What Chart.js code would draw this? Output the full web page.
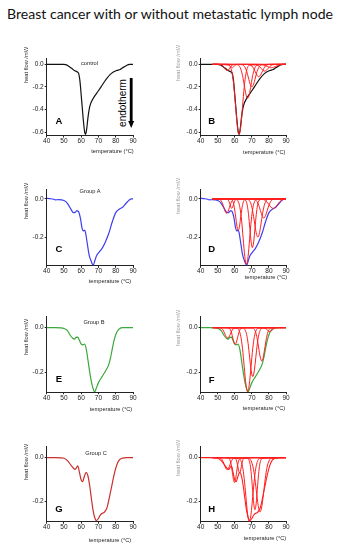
<!DOCTYPE html>
<html><head><meta charset="utf-8">
<script src="https://cdn.jsdelivr.net/npm/chart.js@4/dist/chart.umd.min.js"></script>
<style>
html,body{margin:0;padding:0;background:#fff;width:340px;height:550px;overflow:hidden;position:relative;}
.t{position:absolute;white-space:nowrap;font-family:'Liberation Sans',Arial,sans-serif;color:#222;transform:translate(-50%,-50%);line-height:1;}
.ax{font-size:5.7px}
.yl{transform:translate(-50%,-50%) rotate(-90deg)}
.yr{color:#999}
.let{font-weight:bold;font-size:9.5px;color:#000}
.box{position:absolute}
#title{font-family:Lato,'Open Sans',sans-serif;font-size:13px;color:#111;}
</style></head><body>
<div id="title" class="t" style="left:170px;top:14px">Breast cancer with or without metastatic lymph node</div>
<svg style="position:absolute;left:126px;top:78px" width="10" height="51"><rect x="3.8" y="0" width="2.8" height="44" fill="#000"/><polygon points="2.2,43 8.2,43 5.2,50" fill="#000"/></svg>
<div class="t yl" style="left:123.3px;top:103px;font-size:10px;color:#000">endotherm</div>
<script>
// ---------- data ----------
const xTicks = [40, 50, 60, 70, 80, 90];
const yTicksControl = [0, -0.2, -0.4, -0.6];
const yTicksGroups = [0, -0.2];
const panelTitles = ['control', 'Group A', 'Group B', 'Group C'];
const panelLetters = ['A', 'B', 'C', 'D', 'E', 'F', 'G', 'H'];
const xAxisTitle = 'temperature (°C)';
const yAxisTitle = 'heat flow /mW';

const controlCurve = [[40,0],[45,0],[50,0],[51.5,-0.005],[53,-0.02],[54.5,-0.035],[56,-0.055],[57.5,-0.065],[58.5,-0.08],[59.2,-0.14],[60.2,-0.31],[61.2,-0.49],[62,-0.6],[62.5,-0.62],[63.1,-0.58],[64,-0.46],[65,-0.37],[67,-0.3],[69,-0.255],[71.5,-0.2],[74.5,-0.13],[77.5,-0.08],[80.5,-0.055],[82.5,-0.045],[84,-0.03],[86,-0.012],[88,0],[90,0]];
const groupACurve = [[40,0.003],[42,0.001],[44,-0.002],[45,-0.005],[47,-0.004],[50,-0.009],[52,-0.023],[54,-0.054],[55.5,-0.072],[56.5,-0.071],[57.5,-0.061],[58.5,-0.068],[59.5,-0.1],[60.5,-0.154],[61.2,-0.167],[62,-0.163],[62.5,-0.177],[63.5,-0.233],[64.5,-0.29],[65.5,-0.32],[66.5,-0.342],[67,-0.347],[68,-0.32],[69,-0.295],[70.5,-0.277],[72,-0.26],[74,-0.225],[76,-0.18],[78,-0.12],[80,-0.072],[82,-0.054],[84,-0.044],[86,-0.023],[88,-0.005],[89,0],[90,0]];
const groupBCurve = [[40,0],[45,0],[48,-0.001],[50,-0.004],[52,-0.013],[53.5,-0.033],[55,-0.047],[56,-0.052],[57,-0.044],[58,-0.043],[59,-0.058],[60,-0.074],[61,-0.077],[62,-0.074],[63,-0.1],[64,-0.151],[65,-0.203],[66,-0.247],[67,-0.277],[67.8,-0.289],[68.5,-0.277],[70,-0.247],[72,-0.221],[74,-0.196],[76,-0.165],[77,-0.135],[78,-0.095],[79,-0.058],[80,-0.032],[81,-0.015],[82,-0.006],[84,0],[90,0]];
const groupCCurve = [[40,0],[45,0],[48,-0.001],[50,-0.003],[52,-0.014],[54,-0.034],[55.5,-0.049],[56.5,-0.054],[57.5,-0.042],[58,-0.038],[59,-0.069],[60,-0.103],[60.8,-0.111],[61.5,-0.095],[62.5,-0.072],[63,-0.069],[64,-0.088],[65,-0.134],[66,-0.195],[67,-0.249],[68,-0.28],[68.8,-0.29],[70,-0.28],[71,-0.265],[72,-0.257],[73,-0.254],[74,-0.245],[75,-0.229],[76,-0.195],[77,-0.157],[78,-0.118],[79,-0.08],[80,-0.049],[81,-0.026],[82,-0.011],[84,-0.002],[86,0],[90,0]];

const peakBaseStart = 47;
const peakBaseEnd = 90;

const peaksB_T = [
[51,51.75,52.5,53.25,54,54.75,55.5,56.25,57,57.75,58.5,59.25,60],
[55.5,56,56.5,57,57.5,58,58.5,59,59.5,60,60.5,61,61.5],
[56.5,57.5,58.5,59.5,60.5,61.5,62.5,63.5,64.5,65.5,66.5,67.5,68.5],
[61.5,62.5,63.5,64.5,65.5,66.5,67.5,68.5,69.5,70.5,71.5,72.5,73.5],
[64,65,66,67,68,69,70,71,72,73,74,75,76],
[68,69,70,71,72,73,74,75,76,77,78,79,80],
[71.5,72.5,73.5,74.5,75.5,76.5,77.5,78.5,79.5,80.5,81.5,82.5,83.5],
[74,75.25,76.5,77.75,79,80.25,81.5,82.75,84,85.25,86.5,87.75,89]];
const peaksB_Y = [
[-0.001,-0.002,-0.007,-0.018,-0.033,-0.049,-0.055,-0.049,-0.033,-0.018,-0.007,-0.002,-0.001],
[0,-0.001,-0.004,-0.01,-0.018,-0.026,-0.03,-0.026,-0.018,-0.01,-0.004,-0.001,0],
[-0.007,-0.027,-0.084,-0.202,-0.376,-0.547,-0.62,-0.547,-0.376,-0.202,-0.084,-0.027,-0.007],
[-0.003,-0.013,-0.041,-0.098,-0.182,-0.265,-0.3,-0.265,-0.182,-0.098,-0.041,-0.013,-0.003],
[-0.002,-0.009,-0.027,-0.065,-0.121,-0.176,-0.2,-0.176,-0.121,-0.065,-0.027,-0.009,-0.002],
[-0.001,-0.005,-0.015,-0.036,-0.067,-0.097,-0.11,-0.097,-0.067,-0.036,-0.015,-0.005,-0.001],
[-0.001,-0.003,-0.008,-0.02,-0.036,-0.053,-0.06,-0.053,-0.036,-0.02,-0.008,-0.003,-0.001],
[0,-0.001,-0.004,-0.01,-0.018,-0.026,-0.03,-0.026,-0.018,-0.01,-0.004,-0.001,0]];

const peaksD_T = [
[50.4,51.2,52,52.8,53.6,54.4,55.2,56,56.8,57.6,58.4,59.2,60],
[55.2,55.7,56.2,56.7,57.2,57.7,58.2,58.7,59.2,59.7,60.2,60.7,61.2],
[57.8,58.5,59.2,59.9,60.6,61.3,62,62.7,63.4,64.1,64.8,65.5,66.2],
[61.1,62.05,63,63.95,64.9,65.85,66.8,67.75,68.7,69.65,70.6,71.55,72.5],
[65.8,66.55,67.3,68.05,68.8,69.55,70.3,71.05,71.8,72.55,73.3,74.05,74.8],
[67.5,68.5,69.5,70.5,71.5,72.5,73.5,74.5,75.5,76.5,77.5,78.5,79.5],
[71,72,73,74,75,76,77,78,79,80,81,82,83],
[75,76.25,77.5,78.75,80,81.25,82.5,83.75,85,86.25,87.5,88.75,90]];
const peaksD_Y = [
[-0.001,-0.003,-0.01,-0.024,-0.046,-0.066,-0.075,-0.066,-0.046,-0.024,-0.01,-0.003,-0.001],
[-0.001,-0.002,-0.007,-0.016,-0.03,-0.044,-0.05,-0.044,-0.03,-0.016,-0.007,-0.002,-0.001],
[-0.002,-0.007,-0.022,-0.054,-0.1,-0.146,-0.165,-0.146,-0.1,-0.054,-0.022,-0.007,-0.002],
[-0.004,-0.015,-0.046,-0.111,-0.208,-0.302,-0.342,-0.302,-0.208,-0.111,-0.046,-0.015,-0.004],
[-0.003,-0.011,-0.034,-0.083,-0.155,-0.225,-0.255,-0.225,-0.155,-0.083,-0.034,-0.011,-0.003],
[-0.002,-0.009,-0.027,-0.065,-0.121,-0.176,-0.2,-0.176,-0.121,-0.065,-0.027,-0.009,-0.002],
[-0.001,-0.004,-0.014,-0.033,-0.061,-0.088,-0.1,-0.088,-0.061,-0.033,-0.014,-0.004,-0.001],
[-0.001,-0.002,-0.007,-0.016,-0.03,-0.044,-0.05,-0.044,-0.03,-0.016,-0.007,-0.002,-0.001]];

const peaksF_T = [
[51,51.8,52.6,53.4,54.2,55,55.8,56.6,57.4,58.2,59,59.8,60.6],
[56,56.7,57.4,58.1,58.8,59.5,60.2,60.9,61.6,62.3,63,63.7,64.4],
[61.5,62.5,63.5,64.5,65.5,66.5,67.5,68.5,69.5,70.5,71.5,72.5,73.5],
[65.1,66,66.9,67.8,68.7,69.6,70.5,71.4,72.3,73.2,74.1,75,75.9],
[70.4,71.3,72.2,73.1,74,74.9,75.8,76.7,77.6,78.5,79.4,80.3,81.2],
[76.3,77,77.7,78.4,79.1,79.8,80.5,81.2,81.9,82.6,83.3,84,84.7]];
const peaksF_Y = [
[-0.001,-0.002,-0.006,-0.015,-0.029,-0.041,-0.047,-0.041,-0.029,-0.015,-0.006,-0.002,-0.001],
[-0.001,-0.003,-0.01,-0.024,-0.046,-0.066,-0.075,-0.066,-0.046,-0.024,-0.01,-0.003,-0.001],
[-0.003,-0.013,-0.039,-0.094,-0.175,-0.254,-0.288,-0.254,-0.175,-0.094,-0.039,-0.013,-0.003],
[-0.002,-0.01,-0.03,-0.072,-0.134,-0.194,-0.22,-0.194,-0.134,-0.072,-0.03,-0.01,-0.002],
[-0.002,-0.007,-0.02,-0.049,-0.091,-0.132,-0.15,-0.132,-0.091,-0.049,-0.02,-0.007,-0.002],
[0,-0.001,-0.002,-0.006,-0.011,-0.016,-0.018,-0.016,-0.011,-0.006,-0.002,-0.001,0]];

const peaksH_T = [
[50.7,51.5,52.3,53.1,53.9,54.7,55.5,56.3,57.1,57.9,58.7,59.5,60.3],
[56.2,56.8,57.4,58,58.6,59.2,59.8,60.4,61,61.6,62.2,62.8,63.4],
[59.8,60.3,60.8,61.3,61.8,62.3,62.8,63.3,63.8,64.3,64.8,65.3,65.8],
[62.5,63.5,64.5,65.5,66.5,67.5,68.5,69.5,70.5,71.5,72.5,73.5,74.5],
[67.6,68.3,69,69.7,70.4,71.1,71.8,72.5,73.2,73.9,74.6,75.3,76],
[68.2,69.3,70.4,71.5,72.6,73.7,74.8,75.9,77,78.1,79.2,80.3,81.4]];
const peaksH_Y = [
[-0.001,-0.002,-0.007,-0.018,-0.033,-0.049,-0.055,-0.049,-0.033,-0.018,-0.007,-0.002,-0.001],
[-0.001,-0.005,-0.016,-0.037,-0.07,-0.101,-0.115,-0.101,-0.07,-0.037,-0.016,-0.005,-0.001],
[-0.001,-0.003,-0.009,-0.023,-0.042,-0.062,-0.07,-0.062,-0.042,-0.023,-0.009,-0.003,-0.001],
[-0.003,-0.013,-0.04,-0.096,-0.179,-0.26,-0.295,-0.26,-0.179,-0.096,-0.04,-0.013,-0.003],
[-0.003,-0.011,-0.032,-0.078,-0.146,-0.212,-0.24,-0.212,-0.146,-0.078,-0.032,-0.011,-0.003],
[-0.003,-0.011,-0.034,-0.081,-0.152,-0.221,-0.25,-0.221,-0.152,-0.081,-0.034,-0.011,-0.003]];

// ---------- styling ----------
const C_BLACK = '#111', C_BLUE = '#3d3df2', C_GREEN = '#3aa83a', C_DARKRED = '#c9302c', C_RED = '#ff1e1e';

function curve(pairs, color, w) {
  return {data: pairs.map(p => ({x: p[0], y: p[1]})), borderColor: color, borderWidth: w,
          pointRadius: 0, fill: false, cubicInterpolationMode: 'monotone'};
}
function peaks(Ts, Ys, color) {
  return Ts.map((t, i) => {
    const pts = t.map((x, j) => [x, Ys[i][j]]);
    pts.unshift([peakBaseStart, 0]);
    if (t[t.length - 1] < peakBaseEnd) pts.push([peakBaseEnd, 0]);
    return curve(pts, color, 1);
  });
}

const L = {l: 46.7, r: 133}, R = {l: 200.7, r: 286};
const rows = [{t: 58.7, b: 135.5, min: -0.63, ticks: yTicksControl},
              {t: 189.3, b: 265.8, min: -0.35, ticks: yTicksGroups},
              {t: 316.5, b: 392.2, min: -0.29, ticks: yTicksGroups},
              {t: 446.8, b: 521.7, min: -0.295, ticks: yTicksGroups}];

const panels = [
  {col: L, row: rows[0], ds: [curve(controlCurve, C_BLACK, 1.2)]},
  {col: R, row: rows[0], ds: [...peaks(peaksB_T, peaksB_Y, C_RED), curve(controlCurve, C_BLACK, 1.2)]},
  {col: L, row: rows[1], ds: [curve(groupACurve, C_BLUE, 1.2)]},
  {col: R, row: rows[1], ds: [...peaks(peaksD_T, peaksD_Y, C_RED), curve(groupACurve, C_BLUE, 1.2)]},
  {col: L, row: rows[2], ds: [curve(groupBCurve, C_GREEN, 1.2)]},
  {col: R, row: rows[2], ds: [...peaks(peaksF_T, peaksF_Y, C_RED), curve(groupBCurve, C_GREEN, 1.2)]},
  {col: L, row: rows[3], ds: [curve(groupCCurve, C_DARKRED, 1.2)]},
  {col: R, row: rows[3], ds: [...peaks(peaksH_T, peaksH_Y, C_RED), curve(groupCCurve, C_RED, 1.1)]}
];

const YW = 22, XH = 14;
const tickFont = {family: "'Liberation Sans', Arial, sans-serif", size: 6.5};

panels.forEach(p => {
  const plotW = p.col.r - p.col.l, plotH = p.row.b - p.row.t;
  const boxL = Math.floor(p.col.l - YW - 3), boxT = Math.floor(p.row.t - 6);
  const padL = p.col.l - YW - boxL, padT = p.row.t - boxT;
  const W = Math.ceil(padL + YW + plotW + 9), H = Math.ceil(padT + plotH + XH + 2);
  const padR = W - padL - YW - plotW, padB = H - padT - plotH - XH;
  const div = document.createElement('div');
  div.className = 'box';
  div.style.left = boxL + 'px'; div.style.top = boxT + 'px';
  div.style.width = W + 'px'; div.style.height = H + 'px';
  const cv = document.createElement('canvas');
  cv.width = W; cv.height = H; cv.style.width = W + 'px'; cv.style.height = H + 'px';
  div.appendChild(cv); document.body.appendChild(div);
  const yt = p.row.ticks;
  new Chart(cv, {
    type: 'line',
    data: {datasets: p.ds},
    options: {
      responsive: false, animation: false, devicePixelRatio: 1,
      layout: {padding: {left: padL, right: padR, top: padT, bottom: padB}},
      plugins: {legend: {display: false}, tooltip: {enabled: false}},
      scales: {
        x: {type: 'linear', min: 40, max: 90,
            afterBuildTicks: s => { s.ticks = xTicks.map(v => ({value: v})); },
            afterFit: s => { s.height = XH; },
            grid: {drawOnChartArea: false, tickLength: 2, color: '#222', tickColor: '#222'},
            border: {color: '#222', width: 1},
            ticks: {font: tickFont, color: '#222', padding: 0, maxRotation: 0, autoSkip: false}},
        y: {type: 'linear', min: p.row.min, max: 0.05,
            afterBuildTicks: s => { s.ticks = yt.map(v => ({value: v})); },
            afterFit: s => { s.width = YW; },
            grid: {drawOnChartArea: false, tickLength: 2, color: '#222', tickColor: '#222'},
            border: {color: '#222', width: 1},
            ticks: {font: tickFont, color: '#222', padding: 1, callback: v => v.toFixed(1)}}
      }
    }
  });
});

// ---------- text ----------
function addText(txt, x, y, cls, extra) {
  const d = document.createElement('div');
  d.className = 't ' + cls; d.textContent = txt;
  d.style.left = x + 'px'; d.style.top = y + 'px';
  if (extra) Object.assign(d.style, extra);
  document.body.appendChild(d); return d;
}
const titlePos = [[89.5, 64], [90, 192.3], [94, 323.3], [96, 454.3]];
panelTitles.forEach((t, i) => addText(t, titlePos[i][0], titlePos[i][1], 'ax'));
const xlPos = [[112.5, 152], [264.3, 153.3], [110, 282.3], [266, 278.3], [111, 410], [264, 409], [110, 540.7], [265, 539.3]];
xlPos.forEach(p => addText(xAxisTitle, p[0], p[1], 'ax'));
const ylPos = [[27, 65, ''], [179, 63, ' yr'], [27, 201, ''], [179, 196, ' yr'], [27, 337, ''], [179, 328, ' yr'], [27, 462, ''], [179, 458, ' yr']];
ylPos.forEach(p => addText(yAxisTitle, p[0], p[1], 'ax yl' + p[2]));
const letPos = [[59, 121], [211.7, 121], [59, 249], [211.7, 249], [59, 379], [211.7, 380], [59, 509], [211.7, 509]];
panelLetters.forEach((t, i) => addText(t, letPos[i][0], letPos[i][1], 'let'));

const title = document.getElementById('title');
const tw = title.getBoundingClientRect().width;
title.style.transform = 'translate(-50%,-50%) scaleX(' + (326 / tw) + ')';
</script>
</body></html>
